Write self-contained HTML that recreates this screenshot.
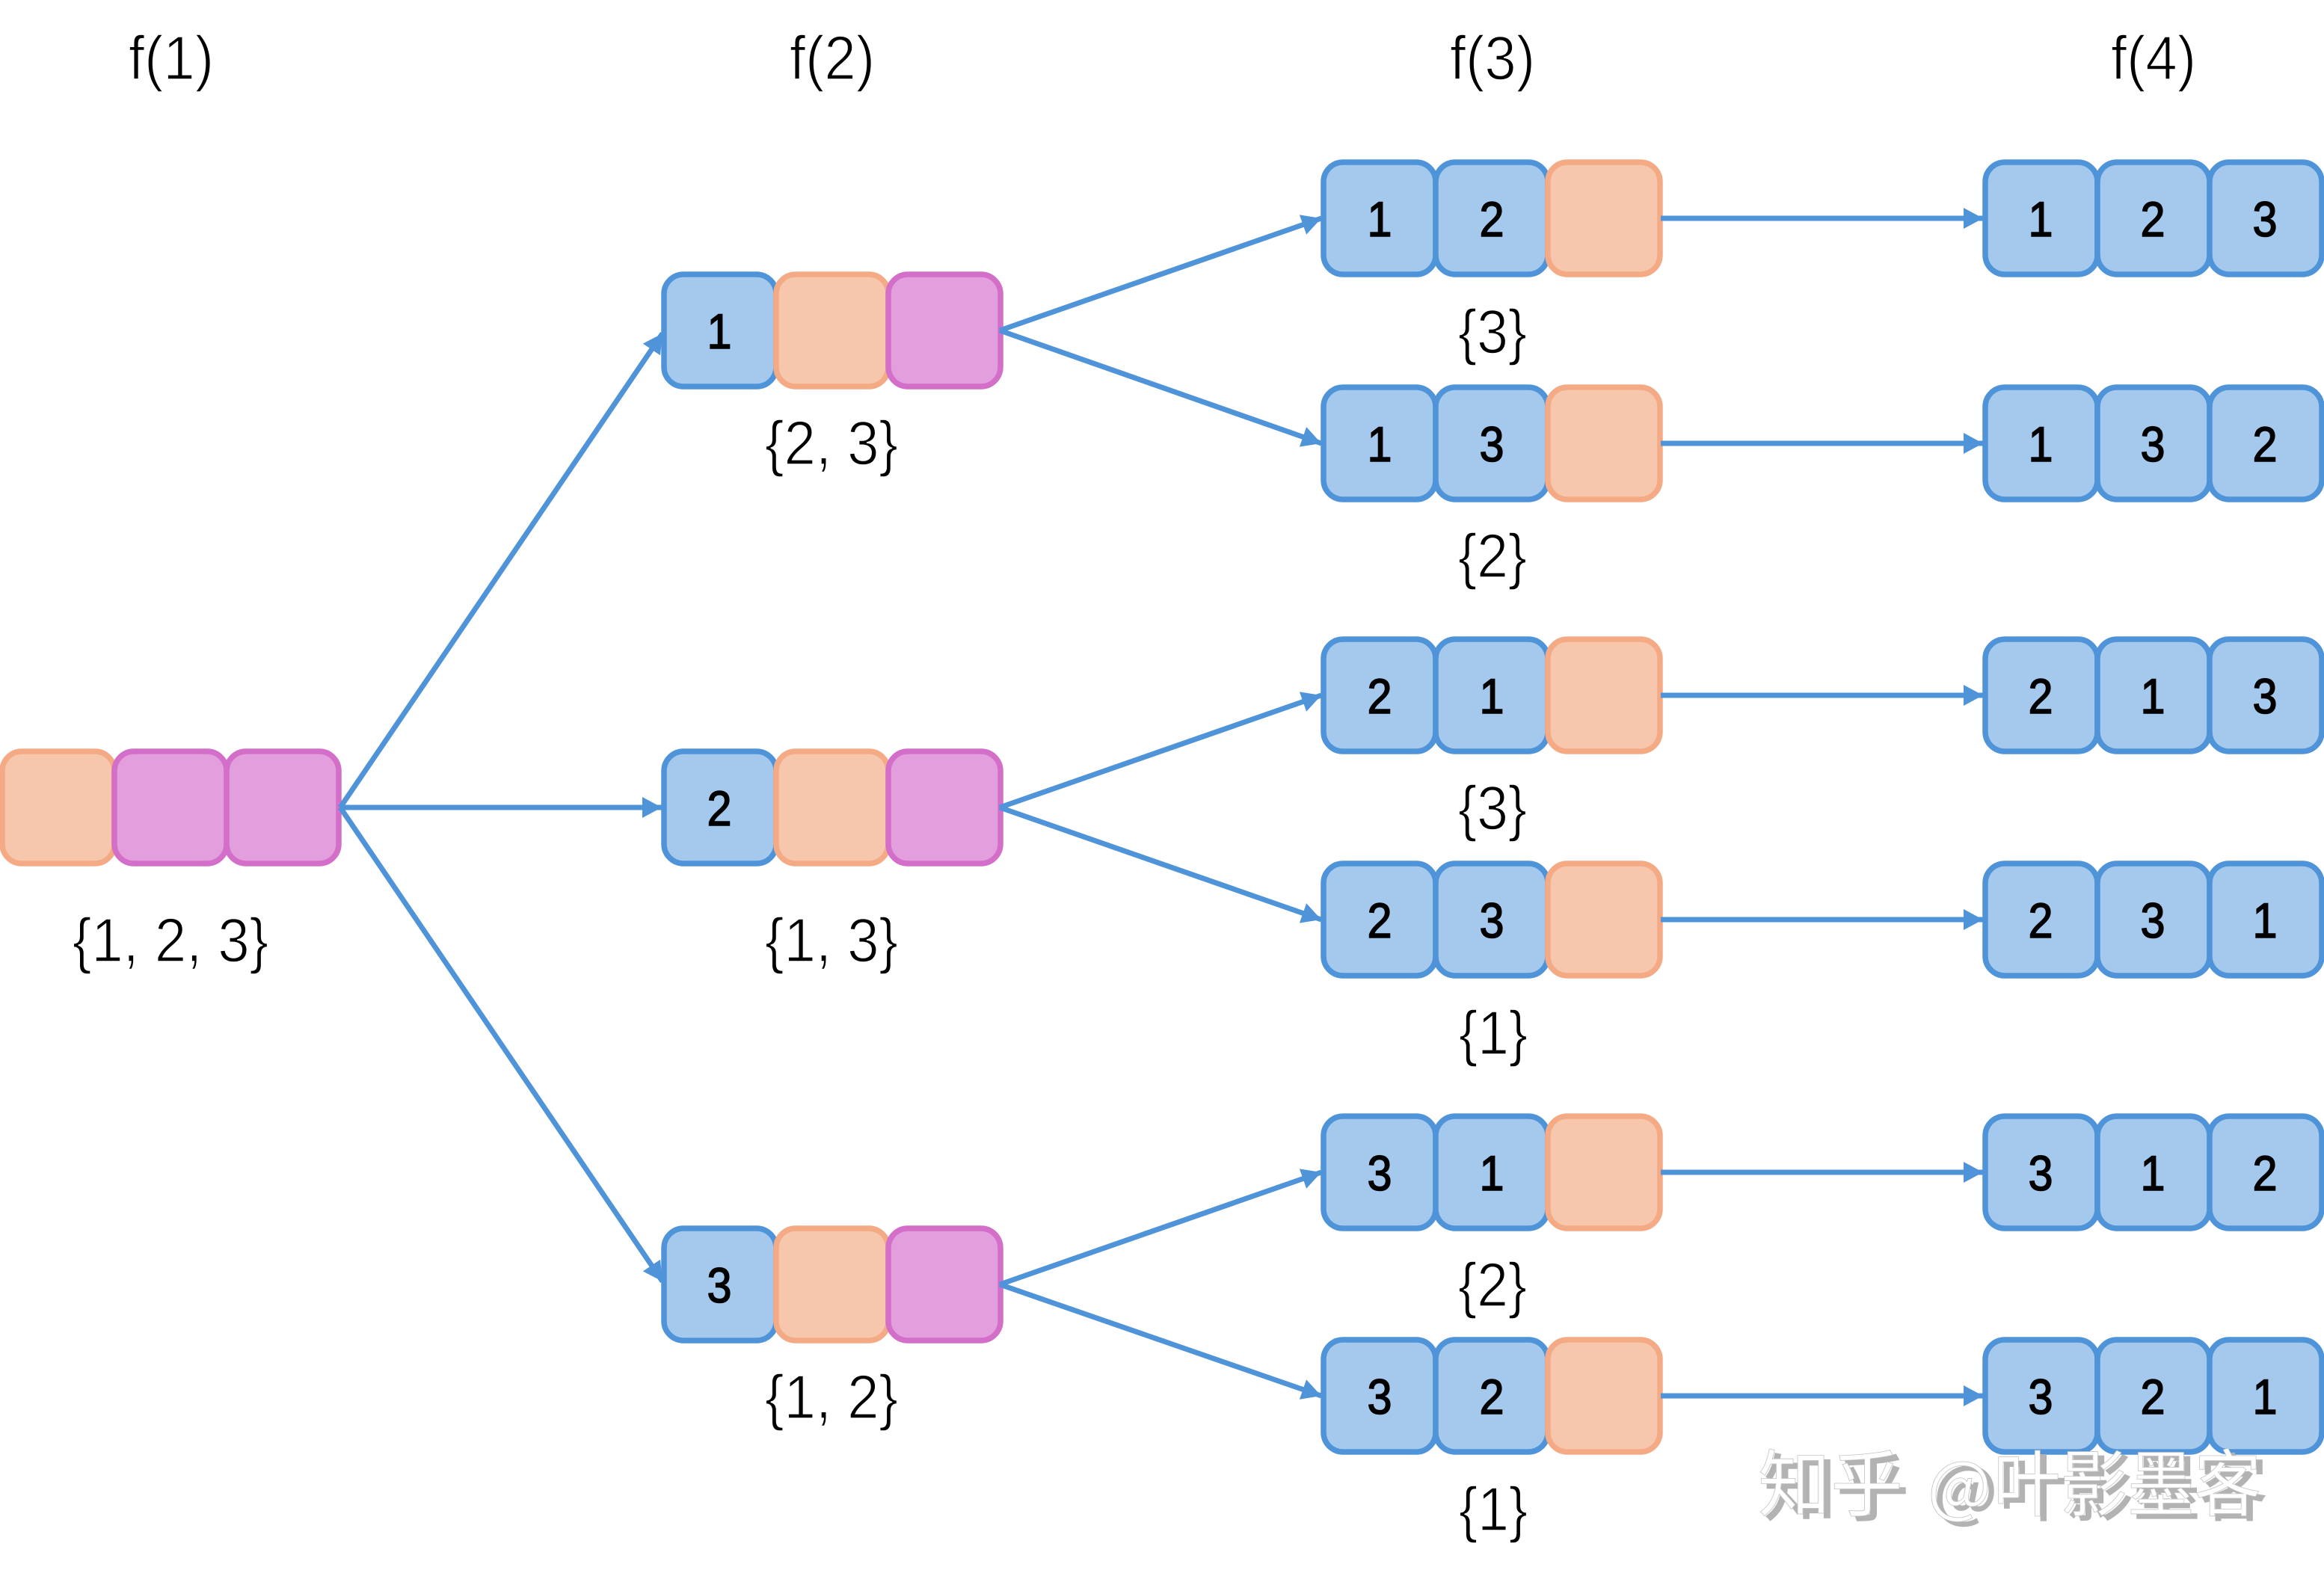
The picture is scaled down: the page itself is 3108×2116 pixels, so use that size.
<!DOCTYPE html>
<html><head><meta charset="utf-8"><style>
html,body{margin:0;padding:0;background:#fff}
svg{display:block}
.b{fill:#A5C9EC;stroke:#4F94D8;stroke-width:7.5}
.o{fill:#F6C7AD;stroke:#F4AB85;stroke-width:7.5}
.p{fill:#E39EDD;stroke:#D36EC9;stroke-width:7.5}
.n{font:66px "Liberation Sans",sans-serif;fill:#000;stroke:#000;stroke-width:1.6;text-anchor:middle;transform-box:fill-box;transform-origin:center;transform:scaleX(.9)}
.l{font:83px "Liberation Sans",sans-serif;fill:#000;stroke:#fff;stroke-width:1.6;paint-order:fill stroke;text-anchor:middle}
.a{stroke:#4F94D8;stroke-width:7;fill:none;marker-end:url(#h)}
.w{font:97px "Noto Sans CJK SC","WenQuanYi Zen Hei",sans-serif}
.ws{fill:#b3b3b3;stroke:#b3b3b3;stroke-width:1.5}
.wt{fill:#fff;stroke:#c4c4c4;stroke-width:.8}
</style></head><body>
<svg width="3108" height="2116" viewBox="0 0 3108 2116" xmlns="http://www.w3.org/2000/svg">
<defs>
<marker id="h" markerUnits="userSpaceOnUse" markerWidth="30" markerHeight="30" refX="26" refY="14" orient="auto"><path d="M0 0L26 14L0 28Z" fill="#4F94D8"/></marker>
<rect id="c" width="150" height="150" rx="26" ry="26"/>
</defs>
<rect width="3108" height="2116" fill="#fff"/>

<!-- f(1) -->
<use href="#c" class="o" x="3" y="1005"/><use href="#c" class="p" x="153" y="1005"/><use href="#c" class="p" x="303" y="1005"/>

<!-- f(2) -->
<use href="#c" class="b" x="888" y="367"/><use href="#c" class="o" x="1038" y="367"/><use href="#c" class="p" x="1188" y="367"/>
<use href="#c" class="b" x="888" y="1005"/><use href="#c" class="o" x="1038" y="1005"/><use href="#c" class="p" x="1188" y="1005"/>
<use href="#c" class="b" x="888" y="1643"/><use href="#c" class="o" x="1038" y="1643"/><use href="#c" class="p" x="1188" y="1643"/>
<text class="n" x="962" y="466">1</text><text class="n" x="962" y="1104">2</text><text class="n" x="962" y="1742">3</text>

<!-- f(3) -->
<use href="#c" class="b" x="1770" y="217"/><use href="#c" class="b" x="1920" y="217"/><use href="#c" class="o" x="2070" y="217"/>
<use href="#c" class="b" x="1770" y="518"/><use href="#c" class="b" x="1920" y="518"/><use href="#c" class="o" x="2070" y="518"/>
<use href="#c" class="b" x="1770" y="855"/><use href="#c" class="b" x="1920" y="855"/><use href="#c" class="o" x="2070" y="855"/>
<use href="#c" class="b" x="1770" y="1155"/><use href="#c" class="b" x="1920" y="1155"/><use href="#c" class="o" x="2070" y="1155"/>
<use href="#c" class="b" x="1770" y="1493"/><use href="#c" class="b" x="1920" y="1493"/><use href="#c" class="o" x="2070" y="1493"/>
<use href="#c" class="b" x="1770" y="1792"/><use href="#c" class="b" x="1920" y="1792"/><use href="#c" class="o" x="2070" y="1792"/>
<text class="n" x="1845" y="316">1</text><text class="n" x="1995" y="316">2</text>
<text class="n" x="1845" y="617">1</text><text class="n" x="1995" y="617">3</text>
<text class="n" x="1845" y="954">2</text><text class="n" x="1995" y="954">1</text>
<text class="n" x="1845" y="1254">2</text><text class="n" x="1995" y="1254">3</text>
<text class="n" x="1845" y="1592">3</text><text class="n" x="1995" y="1592">1</text>
<text class="n" x="1845" y="1891">3</text><text class="n" x="1995" y="1891">2</text>

<!-- f(4) -->
<use href="#c" class="b" x="2655" y="217"/><use href="#c" class="b" x="2805" y="217"/><use href="#c" class="b" x="2955" y="217"/>
<use href="#c" class="b" x="2655" y="518"/><use href="#c" class="b" x="2805" y="518"/><use href="#c" class="b" x="2955" y="518"/>
<use href="#c" class="b" x="2655" y="855"/><use href="#c" class="b" x="2805" y="855"/><use href="#c" class="b" x="2955" y="855"/>
<use href="#c" class="b" x="2655" y="1155"/><use href="#c" class="b" x="2805" y="1155"/><use href="#c" class="b" x="2955" y="1155"/>
<use href="#c" class="b" x="2655" y="1493"/><use href="#c" class="b" x="2805" y="1493"/><use href="#c" class="b" x="2955" y="1493"/>
<use href="#c" class="b" x="2655" y="1792"/><use href="#c" class="b" x="2805" y="1792"/><use href="#c" class="b" x="2955" y="1792"/>
<text class="n" x="2729" y="316">1</text><text class="n" x="2879" y="316">2</text><text class="n" x="3029" y="316">3</text>
<text class="n" x="2729" y="617">1</text><text class="n" x="2879" y="617">3</text><text class="n" x="3029" y="617">2</text>
<text class="n" x="2729" y="954">2</text><text class="n" x="2879" y="954">1</text><text class="n" x="3029" y="954">3</text>
<text class="n" x="2729" y="1254">2</text><text class="n" x="2879" y="1254">3</text><text class="n" x="3029" y="1254">1</text>
<text class="n" x="2729" y="1592">3</text><text class="n" x="2879" y="1592">1</text><text class="n" x="3029" y="1592">2</text>
<text class="n" x="2729" y="1891">3</text><text class="n" x="2879" y="1891">2</text><text class="n" x="3029" y="1891">1</text>

<!-- connectors -->
<line class="a" x1="455" y1="1080" x2="886" y2="446"/>
<line class="a" x1="455" y1="1080" x2="885" y2="1080"/>
<line class="a" x1="455" y1="1080" x2="886" y2="1714"/>
<line class="a" x1="1337" y1="442" x2="1767" y2="292"/>
<line class="a" x1="1337" y1="442" x2="1767" y2="593"/>
<line class="a" x1="1337" y1="1080" x2="1767" y2="930"/>
<line class="a" x1="1337" y1="1080" x2="1767" y2="1230"/>
<line class="a" x1="1337" y1="1718" x2="1767" y2="1568"/>
<line class="a" x1="1337" y1="1718" x2="1767" y2="1867"/>
<line class="a" x1="2221" y1="292" x2="2652" y2="292"/>
<line class="a" x1="2221" y1="593" x2="2652" y2="593"/>
<line class="a" x1="2221" y1="930" x2="2652" y2="930"/>
<line class="a" x1="2221" y1="1230" x2="2652" y2="1230"/>
<line class="a" x1="2221" y1="1568" x2="2652" y2="1568"/>
<line class="a" x1="2221" y1="1867" x2="2652" y2="1867"/>

<!-- headings -->
<text class="l" x="229" y="106" textLength="114" lengthAdjust="spacingAndGlyphs">f(1)</text>
<text class="l" x="1113" y="106" textLength="114" lengthAdjust="spacingAndGlyphs">f(2)</text>
<text class="l" x="1996" y="106" textLength="114" lengthAdjust="spacingAndGlyphs">f(3)</text>
<text class="l" x="2880" y="106" textLength="114" lengthAdjust="spacingAndGlyphs">f(4)</text>

<!-- sets -->
<text class="l" x="228" y="1286" textLength="262" lengthAdjust="spacingAndGlyphs">{1, 2, 3}</text>
<text class="l" x="1112" y="621" textLength="178" lengthAdjust="spacingAndGlyphs">{2, 3}</text>
<text class="l" x="1112" y="1286" textLength="178" lengthAdjust="spacingAndGlyphs">{1, 3}</text>
<text class="l" x="1112" y="1897" textLength="178" lengthAdjust="spacingAndGlyphs">{1, 2}</text>
<text class="l" x="1996" y="472" textLength="92" lengthAdjust="spacingAndGlyphs">{3}</text>
<text class="l" x="1996" y="772" textLength="92" lengthAdjust="spacingAndGlyphs">{2}</text>
<text class="l" x="1996" y="1109" textLength="92" lengthAdjust="spacingAndGlyphs">{3}</text>
<text class="l" x="1997" y="1410" textLength="92" lengthAdjust="spacingAndGlyphs">{1}</text>
<text class="l" x="1996" y="1747" textLength="92" lengthAdjust="spacingAndGlyphs">{2}</text>
<text class="l" x="1997" y="2047" textLength="92" lengthAdjust="spacingAndGlyphs">{1}</text>

<!-- watermark -->
<g class="w ws" transform="translate(8,6)">
<text x="2351" y="2020">知乎</text><text x="2578" y="2020" font-size="90">@</text><text x="2666" y="2020" textLength="358" lengthAdjust="spacingAndGlyphs">叶影墨客</text>
</g>
<g class="w wt">
<text x="2351" y="2020">知乎</text><text x="2578" y="2020" font-size="90">@</text><text x="2666" y="2020" textLength="358" lengthAdjust="spacingAndGlyphs">叶影墨客</text>
</g>
</svg>
</body></html>
